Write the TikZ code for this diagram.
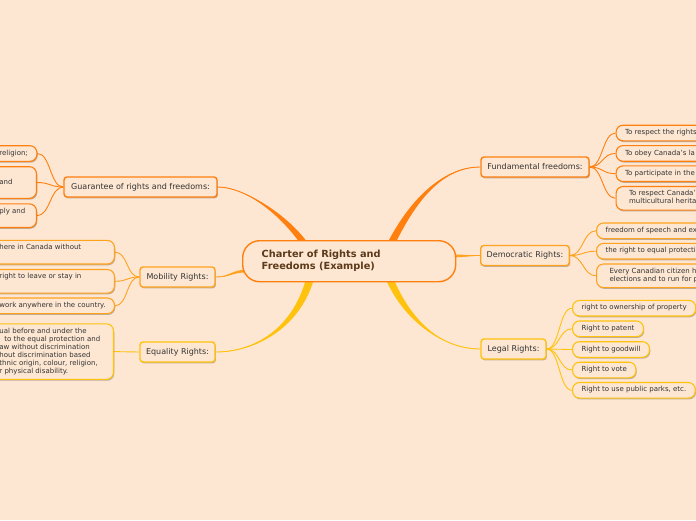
\documentclass[tikz,border=0pt]{standalone}
\usepackage{fontspec}
\setmainfont{DejaVu Sans}
\usetikzlibrary{calc,shadows}
\definecolor{bgc}{HTML}{FDE7D2}
\definecolor{oA}{HTML}{FF7F0F}
\definecolor{oB}{HTML}{FFA21F}
\definecolor{oC}{HTML}{FFC20E}
\definecolor{txt}{HTML}{333333}
\definecolor{ctxt}{HTML}{5C3A1A}
\newcommand\kidtext[1]{\begin{tabular}{@{}l@{}}#1\end{tabular}}
\pgfdeclarelayer{bg}
\pgfsetlayers{bg,main}
\tikzset{
 shd/.style={drop shadow={shadow xshift=0.8pt, shadow yshift=-1.3pt, opacity=0.25, fill=black}},
 lab/.style={draw=#1, fill=bgc, rounded corners=3pt, line width=1.4pt, font=\fontsize{8}{10}\selectfont, text=txt, inner xsep=6pt, inner ysep=0pt, minimum height=20pt, shd},
 kid/.style={draw=#1, fill=bgc, rounded corners=7pt, line width=1.1pt, font=\fontsize{7}{8}\selectfont, text=txt, inner xsep=9pt, inner ysep=3.8pt, shd},
 link/.style={draw=#1, line width=0.9pt},
 trunk/.style={fill=#1, draw=none},
}
\begin{document}
\begin{tikzpicture}[x=1pt,y=-1pt]
\useasboundingbox (0,0) rectangle (696,520);
\begin{pgfonlayer}{bg}
\fill[bgc] (0,0) rectangle (696,520);
\end{pgfonlayer}

% central node
\node[draw=oA, fill=bgc, line width=1.4pt, rounded corners=17pt, minimum width=213pt, minimum height=41pt, inner xsep=19pt, inner ysep=0pt, text=ctxt, font=\fontsize{9.8}{12.5}\bfseries\selectfont, anchor=north west] (c) at (242,240) {\makebox[175pt][l]{\kidtext{Charter of Rights and\\Freedoms (Example)}}};

% main topic nodes
\node[lab=oA, minimum width=153pt] (g) at (140.5,187) {Guarantee of rights and freedoms:};
\node[lab=oB, minimum width=75pt] (m) at (177.5,277) {Mobility Rights:};
\node[lab=oC, minimum width=75pt] (q) at (177.5,352) {Equality Rights:};
\node[lab=oA, minimum width=108pt] (f) at (535,167) {Fundamental freedoms:};
\node[lab=oB, minimum width=88pt] (d) at (525,255.5) {Democratic Rights:};
\node[lab=oC, minimum width=65pt] (l) at (513.5,349) {Legal Rights:};

% left children
\node[kid=oA, anchor=east] (g1) at (37.5,153.5) {\hspace*{50pt}\makebox[28.5pt][l]{\kidtext{religion;}}};
\node[kid=oA, anchor=east] (g2) at (37,182.5) {\hspace*{50pt}\makebox[28pt][l]{\kidtext{\mbox{}\\and\\\mbox{}}}};
\node[kid=oA, anchor=east] (g3) at (37,215.7) {\hspace*{50pt}\makebox[28pt][l]{\kidtext{ply and\\\mbox{}}}};
\node[kid=oB, anchor=east] (m1) at (115,252.2) {\hspace*{50pt}\makebox[106pt][l]{\kidtext{here in Canada without\\\mbox{}}}};
\node[kid=oB, anchor=east] (m2) at (115,281.3) {\hspace*{50pt}\makebox[106pt][l]{\kidtext{right to leave or stay in\\\mbox{}}}};
\node[kid=oB, anchor=east] (m3) at (115,305.8) {\hspace*{50pt}\makebox[106pt][l]{\kidtext{work anywhere in the country.}}};
\node[kid=oC, anchor=east] (q1) at (114,351.6) {\hspace*{50pt}\makebox[105pt][l]{\kidtext{ual before and under the\\\hspace*{5pt}to the equal protection and\\aw without discrimination\\hout discrimination based\\thnic origin, colour, religion,\\r physical disability.}}};

% right children
\node[kid=oA, anchor=west] (f1) at (615.5,133) {\makebox[150pt][l]{\kidtext{To respect the rights}}};
\node[kid=oA, anchor=west] (f2) at (615.5,153.4) {\makebox[150pt][l]{\kidtext{To obey Canada's la}}};
\node[kid=oA, anchor=west] (f3) at (615.5,173.7) {\makebox[150pt][l]{\kidtext{To participate in the}}};
\node[kid=oA, anchor=west] (f4) at (615.5,198.3) {\makebox[150pt][l]{\hspace*{4pt}\kidtext{To respect Canada's\\multicultural herita}}};
\node[kid=oB, anchor=west] (d1) at (596,230.8) {\makebox[150pt][l]{\kidtext{freedom of speech and ex}}};
\node[kid=oB, anchor=west] (d2) at (596,251.2) {\makebox[150pt][l]{\kidtext{the right to equal protecti}}};
\node[kid=oB, anchor=west] (d3) at (596,275.8) {\makebox[150pt][l]{\hspace*{4pt}\kidtext{Every Canadian citizen h\\elections and to run for p}}};
\node[kid=oC, anchor=west] (l1) at (572,308.2) {\kidtext{right to ownership of property}};
\node[kid=oC, anchor=west] (l2) at (572,328.8) {\kidtext{Right to patent}};
\node[kid=oC, anchor=west] (l3) at (572,349.5) {\kidtext{Right to goodwill}};
\node[kid=oC, anchor=west] (l4) at (572,370) {\kidtext{Right to vote}};
\node[kid=oC, anchor=west] (l5) at (572,390.3) {\kidtext{Right to use public parks, etc.}};

% roots on the central node
\coordinate (rg) at (306,246);
\coordinate (rf) at (390,246);
\coordinate (rq) at (311,275);
\coordinate (rl) at (388,275);
\coordinate (rm) at (247,271);
\coordinate (rd) at (450,256);

\begin{pgfonlayer}{bg}
% tapered trunks
\fill[trunk=oA] ($(rg)+(-4,0)$) .. controls (281,215) and (245,186.5) .. (g.east) .. controls (245,187.5) and (289,215) .. ($(rg)+(4,0)$) -- cycle;
\draw[link=oA] (rg) .. controls (285,215) and (245,187) .. (g.east);
\fill[trunk=oA] ($(rf)+(-4,0)$) .. controls (406,205) and (440,166.5) .. (f.west) .. controls (440,167.5) and (414,205) .. ($(rf)+(4,0)$) -- cycle;
\draw[link=oA] (rf) .. controls (410,205) and (440,167) .. (f.west);
\fill[trunk=oC] ($(rq)+(-4,0)$) .. controls (294,328) and (255,351.5) .. (q.east) .. controls (255,352.5) and (302,328) .. ($(rq)+(4,0)$) -- cycle;
\draw[link=oC] (rq) .. controls (298,328) and (255,352) .. (q.east);
\fill[trunk=oC] ($(rl)+(-4,0)$) .. controls (401,318) and (440,348.5) .. (l.west) .. controls (440,349.5) and (409,318) .. ($(rl)+(4,0)$) -- cycle;
\draw[link=oC] (rl) .. controls (405,318) and (440,349) .. (l.west);
\fill[trunk=oB] ($(rm)+(0,-1.4)$) .. controls (232,269.6) and (230,276.5) .. (m.east) .. controls (230,277.5) and (232,272.4) .. ($(rm)+(0,1.4)$) -- cycle;
\draw[link=oB] (rm) .. controls (232,271) and (230,277) .. (m.east);
\fill[trunk=oB] ($(rd)+(0,-1.4)$) .. controls (465,254.6) and (468,255) .. (d.west) .. controls (468,256) and (465,257.4) .. ($(rd)+(0,1.4)$) -- cycle;
\draw[link=oB] (rd) .. controls (465,256) and (468,255.5) .. (d.west);

% child links
\foreach \k in {g1,g2,g3} \draw[link=oA] (g.west) .. controls +(-13,0) and +(13,0) .. (\k.east);
\foreach \k in {m1,m2,m3} \draw[link=oB] (m.west) .. controls +(-13,0) and +(13,0) .. (\k.east);
\draw[link=oC] (q.west) .. controls +(-13,0) and +(13,0) .. (q1.east);
\foreach \k in {f1,f2,f3,f4} \draw[link=oA] (f.east) .. controls +(13,0) and +(-13,0) .. (\k.west);
\foreach \k in {d1,d2,d3} \draw[link=oB] (d.east) .. controls +(13,0) and +(-13,0) .. (\k.west);
\foreach \k in {l1,l2,l3,l4,l5} \draw[link=oC] (l.east) .. controls +(13,0) and +(-13,0) .. (\k.west);
\end{pgfonlayer}
\end{tikzpicture}
\end{document}
